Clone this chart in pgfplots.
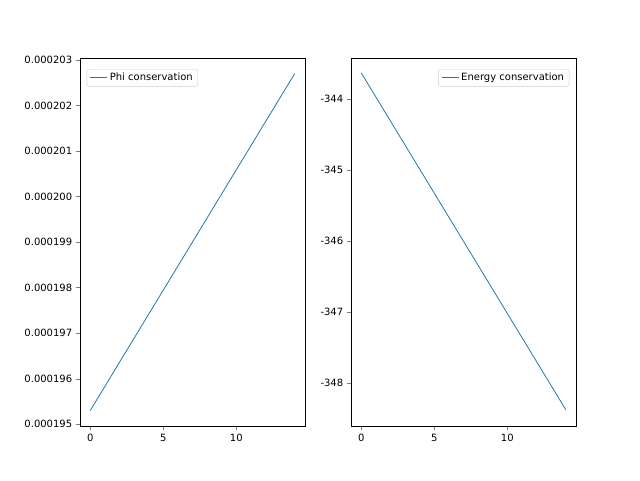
\documentclass[border=0pt]{standalone}
\usepackage{pgfplots}
\pgfplotsset{compat=1.18}
\usepackage{fontspec}
\setmainfont{DejaVu Sans}
\definecolor{mblue}{HTML}{1F77B4}
\begin{document}
\begin{tikzpicture}
\useasboundingbox (0pt,0pt) rectangle (640pt,480pt);
\pgfplotsset{every axis/.style={
  anchor=south west, scale only axis, width=225pt, height=368pt,
  xmin=-0.7, xmax=14.7, xtick={0,5,10},
  tick align=outside, xtick pos=bottom, ytick pos=left,
  tick label style={font=\fontsize{10}{12}\selectfont},
  /pgf/number format/assume math mode=true,
  legend style={font=\fontsize{10}{12}\selectfont, draw=black!20, rounded corners=2pt},
  legend cell align=left}}
\begin{axis}[at={(80pt,54pt)},
  ymin=0.00019496, ymax=0.00020304,
  ytick={0.000195,0.000196,0.000197,0.000198,0.000199,0.000200,0.000201,0.000202,0.000203},
  scaled y ticks=false,
  yticklabel style={/pgf/number format/.cd,fixed,fixed zerofill,precision=6},
  legend pos=north west]
\addplot[mblue, thick] coordinates {(0,0.0001953) (14,0.0002027)};
\addlegendentry{Phi conservation}
\end{axis}
\begin{axis}[at={(351pt,54pt)},
  ymin=-348.61, ymax=-343.42, ytick={-348,-347,-346,-345,-344},
  legend pos=north east]
\addplot[mblue, thick] coordinates {(0,-343.63) (14,-348.38)};
\addlegendentry{Energy conservation}
\end{axis}
\end{tikzpicture}
\end{document}
